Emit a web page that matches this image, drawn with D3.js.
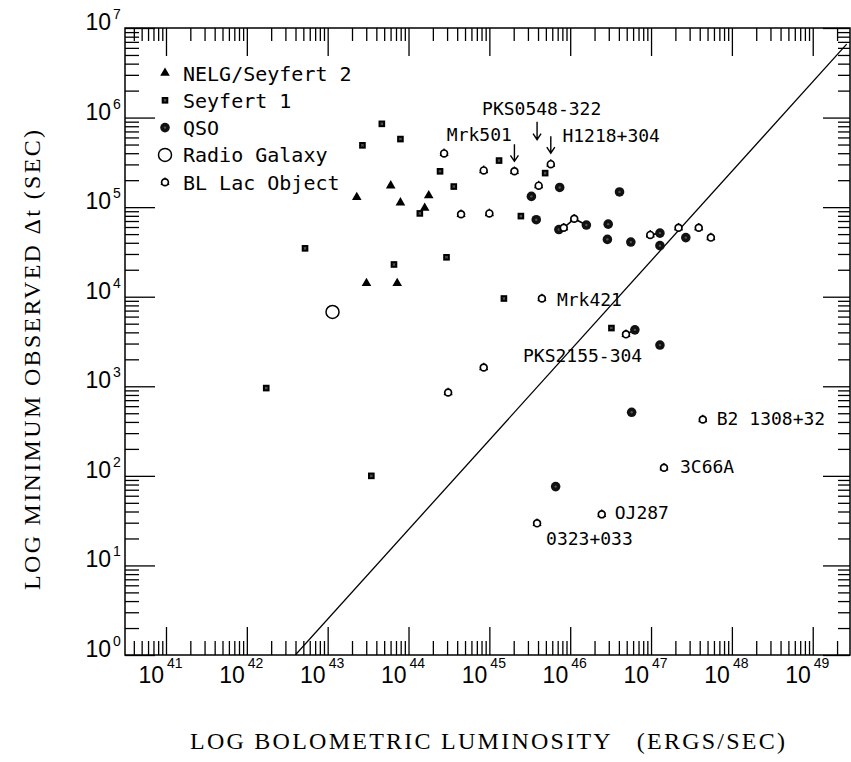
<!DOCTYPE html>
<html><head><meta charset="utf-8">
<script src="https://cdn.jsdelivr.net/npm/d3@7"></script>
<style>body{margin:0;background:#fff}svg{display:block}</style>
</head><body>
<svg id="c" width="851" height="762"></svg>
<script>
// ---------------- DATA (log10 values) ----------------
const categories = ["NELG/Seyfert 2", "Seyfert 1", "QSO", "Radio Galaxy", "BL Lac Object"];

const nelgLogL = [43.36, 43.78, 43.90, 44.25, 44.20, 43.48, 43.86];
const nelgLogT = [5.11, 5.24, 5.05, 5.13, 4.99, 4.15, 4.15];

const sey1LogL = [43.67, 43.43, 43.90, 44.39, 44.56, 44.14, 45.12, 45.39, 45.69, 42.72, 43.82, 44.47, 45.18, 42.24, 43.54, 46.51];
const sey1LogT = [5.93, 5.69, 5.76, 5.40, 5.23, 4.93, 5.52, 4.90, 5.38, 4.54, 4.36, 4.44, 3.98, 2.98, 2.00, 3.65];

const qsoLogL = [45.52, 45.87, 46.61, 45.58, 46.47, 46.46, 46.75, 47.43, 47.11, 46.80, 47.11, 46.76, 45.82, 45.86, 46.20, 47.11];
const qsoLogT = [5.12, 5.22, 5.17, 4.86, 4.81, 4.64, 4.61, 4.66, 4.57, 3.63, 3.46, 2.71, 1.88, 4.75, 4.80, 4.71];

const radioLogL = [43.06];
const radioLogT = [3.83];

const blLogL = [44.44, 44.93, 45.31, 45.76, 45.61, 44.65, 45.00, 45.92, 46.05, 46.99, 47.34, 47.59, 47.74, 45.65, 46.69, 44.93, 44.49, 47.64, 47.16, 46.39, 45.59];
const blLogT = [5.60, 5.41, 5.40, 5.48, 5.24, 4.92, 4.93, 4.77, 4.87, 4.69, 4.77, 4.77, 4.66, 3.98, 3.58, 3.21, 2.93, 2.63, 2.09, 1.57, 1.47];

// connected measurements (logL1, logT1, logL2, logT2)
const linkLogL1 = [45.92, 46.05, 46.99, 46.69];
const linkLogT1 = [4.77, 4.87, 4.69, 3.58];
const linkLogL2 = [46.05, 46.20, 47.11, 46.80];
const linkLogT2 = [4.87, 4.80, 4.71, 3.63];

// limiting line  log Δt = log L - 42.6
const lineLogL = [42.6, 49.42];
const lineLogT = [0.0, 6.82];

// named objects
const objNames = ["Mrk421", "PKS2155-304", "B2 1308+32", "3C66A", "OJ287", "0323+033", "Mrk501", "PKS0548-322", "H1218+304"];
const objLogL  = [45.65, 46.69, 47.64, 47.16, 46.39, 45.59, 45.31, 45.61, 45.76];
const objLogT  = [3.98, 3.58, 2.63, 2.09, 1.57, 1.47, 5.40, 5.24, 5.48];

const xTickExps = [41, 42, 43, 44, 45, 46, 47, 48, 49];
const yTickExps = [0, 1, 2, 3, 4, 5, 6, 7];

const xTitle = "LOG BOLOMETRIC LUMINOSITY   (ERGS/SEC)";
const yTitle = "LOG MINIMUM OBSERVED \u0394t (SEC)";

// ---------------- LAYOUT ----------------
const L = 125, R = 850, T = 28, B = 655;
const svg = d3.select("#c");
const x = d3.scaleLog().domain([Math.pow(10, 40.493), Math.pow(10, 49.461)]).range([L, R]);
const y = d3.scaleLog().domain([1, 1e7]).range([B, T]);
const P = (e) => Math.pow(10, e);

function minors(scale) {
  const [a, b] = scale.domain();
  const out = [];
  for (let e = Math.floor(Math.log10(a)); e <= Math.ceil(Math.log10(b)); e++)
    for (let m = 2; m <= 9; m++) { const v = m * P(e); if (v > a * 1.0001 && v < b * 0.9999) out.push(v); }
  return out;
}
const xMaj = xTickExps.map(P), yMaj = yTickExps.map(P);
const xMin = minors(x), yMin = minors(y);

const axG = svg.append("g");
function addAxis(gen, pos, vals, size) {
  const g = axG.append("g").attr("transform", pos)
    .call(gen.tickValues(vals).tickSizeInner(size).tickSizeOuter(0).tickFormat(""));
  g.select(".domain").remove();
  g.selectAll("line").attr("stroke", "#000").attr("stroke-width", 1.3);
}
addAxis(d3.axisBottom(x), `translate(0,${B})`, xMaj, -28);
addAxis(d3.axisBottom(x), `translate(0,${B})`, xMin, -14);
addAxis(d3.axisTop(x), `translate(0,${T})`, xMaj, -28);
addAxis(d3.axisTop(x), `translate(0,${T})`, xMin, -13);
addAxis(d3.axisLeft(y), `translate(${L},0)`, yMaj, -30);
addAxis(d3.axisLeft(y), `translate(${L},0)`, yMin, -14);
addAxis(d3.axisRight(y), `translate(${R},0)`, yMaj, -27);
addAxis(d3.axisRight(y), `translate(${R},0)`, yMin, -12);

svg.append("rect").attr("x", L).attr("y", T).attr("width", R - L).attr("height", B - T)
  .attr("fill", "none").attr("stroke", "#000").attr("stroke-width", 1.5);

// tick labels
const numFont = "'Liberation Sans', Arial, sans-serif";
xTickExps.forEach(e => {
  const px = x(P(e));
  svg.append("text").attr("x", px - 2).attr("y", 683).attr("text-anchor", "end")
    .attr("font-family", numFont).attr("font-size", 23).text("10");
  svg.append("text").attr("x", px + 1).attr("y", 668).attr("text-anchor", "start")
    .attr("font-family", numFont).attr("font-size", 14).text(e);
});
yTickExps.forEach(e => {
  const py = y(P(e));
  svg.append("text").attr("x", 111).attr("y", py + 2).attr("text-anchor", "end")
    .attr("font-family", numFont).attr("font-size", 23).text("10");
  svg.append("text").attr("x", 113).attr("y", py - 9).attr("text-anchor", "start")
    .attr("font-family", numFont).attr("font-size", 14).text(e);
});

// axis titles
const serif = "'Liberation Serif', 'Times New Roman', serif";
svg.append("text").attr("x", 190).attr("y", 749).attr("font-family", serif).attr("font-size", 24)
  .style("white-space", "pre")
  .attr("textLength", 595).attr("lengthAdjust", "spacing").text(xTitle);
svg.append("text").attr("transform", "translate(40,590) rotate(-90)").attr("font-family", serif)
  .attr("font-size", 24).attr("textLength", 460).attr("lengthAdjust", "spacing").text(yTitle);

// plot area clip
svg.append("clipPath").attr("id", "clip").append("rect").attr("x", L).attr("y", T).attr("width", R - L).attr("height", B - T);
const plot = svg.append("g").attr("clip-path", "url(#clip)");

// limiting line
plot.append("path")
  .datum(lineLogL.map((v, i) => [P(v), P(lineLogT[i])]))
  .attr("d", d3.line().x(d => x(d[0])).y(d => y(d[1])))
  .attr("fill", "none").attr("stroke", "#000").attr("stroke-width", 1.3);

// links
linkLogL1.forEach((v, i) => {
  plot.append("line").attr("x1", x(P(v))).attr("y1", y(P(linkLogT1[i])))
    .attr("x2", x(P(linkLogL2[i]))).attr("y2", y(P(linkLogT2[i])))
    .attr("stroke", "#000").attr("stroke-width", 1.6);
});

// symbols
function drawSym(g, type, cx, cy) {
  if (type === 0) {
    g.append("path").attr("d", d3.symbol(d3.symbolTriangle, 40)()).attr("transform", `translate(${cx},${cy})`).attr("fill", "#000");
  } else if (type === 1) {
    g.append("path").attr("d", d3.symbol(d3.symbolSquare, 44)()).attr("transform", `translate(${cx},${cy})`).attr("fill", "#000");
    g.append("path").attr("d", d3.symbol(d3.symbolCross, 6)()).attr("transform", `translate(${cx},${cy}) rotate(45)`).attr("fill", "#555");
  } else if (type === 2) {
    g.append("path").attr("d", d3.symbol(d3.symbolCircle, 72)()).attr("transform", `translate(${cx},${cy})`).attr("fill", "#111");
    g.append("circle").attr("cx", cx).attr("cy", cy).attr("r", 1.2).attr("fill", "#555");
  } else if (type === 3) {
    g.append("circle").attr("cx", cx).attr("cy", cy).attr("r", 6.5).attr("fill", "#fff").attr("stroke", "#000").attr("stroke-width", 1.5);
  } else {
    const s = g.append("g").attr("transform", `translate(${cx},${cy})`);
    [30, 150, 270].forEach(a => {
      const r = a * Math.PI / 180;
      s.append("line").attr("x1", 3 * Math.cos(r)).attr("y1", 3 * Math.sin(r))
        .attr("x2", 4.8 * Math.cos(r)).attr("y2", 4.8 * Math.sin(r)).attr("stroke", "#000").attr("stroke-width", 1.3);
    });
    s.append("circle").attr("r", 3.4).attr("fill", "#fff").attr("stroke", "#000").attr("stroke-width", 1.7);
  }
}
const sets = [[nelgLogL, nelgLogT], [sey1LogL, sey1LogT], [qsoLogL, qsoLogT], [radioLogL, radioLogT], [blLogL, blLogT]];
sets.forEach(([ls, ts], k) => ls.forEach((v, i) => drawSym(plot, k, x(P(v)), y(P(ts[i])))));

// legend
const mono = "'DejaVu Sans Mono', monospace";
categories.forEach((c, i) => {
  const cy = 73 + i * 27.3;
  drawSym(svg, i, 165, cy);
  svg.append("text").attr("x", 183).attr("y", cy + 7.5).attr("font-family", mono).attr("font-size", 20).text(c);
});

// object annotations: text offsets (dx, dy) and arrows (layout only)
const annDx = [15, -103, 14, 16, 13, 9, -67.6, -56.6, 11.6];
const annDy = [7, 28, 6, 5, 5, 22, -30, -71, -22];
const arrowDx = [null, null, null, null, null, null, 0, -1.6, 0];
const arrowY1 = [null, null, null, null, null, null, -27, -64, -28];
const arrowY2 = [null, null, null, null, null, null, -10, -46, -11];
objNames.forEach((n, i) => {
  const px = x(P(objLogL[i])), py = y(P(objLogT[i]));
  svg.append("text").attr("x", px + annDx[i]).attr("y", py + annDy[i])
    .attr("font-family", mono).attr("font-size", 18).text(n);
  if (arrowDx[i] !== null) {
    const ax = px + arrowDx[i], y1 = py + arrowY1[i], y2 = py + arrowY2[i];
    svg.append("path").attr("d", `M${ax},${y1}L${ax},${y2}M${ax - 4},${y2 - 6}L${ax},${y2}L${ax + 4},${y2 - 6}`)
      .attr("fill", "none").attr("stroke", "#000").attr("stroke-width", 1.4);
  }
});
</script>
</body></html>
